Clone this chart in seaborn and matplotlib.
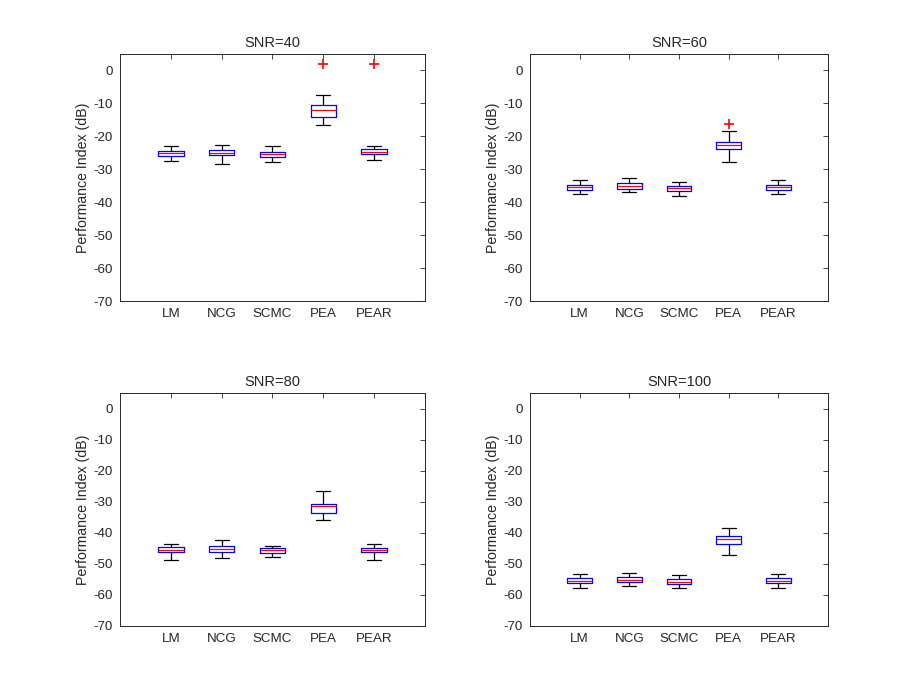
import numpy as np
import pandas as pd
import seaborn as sns
import matplotlib.pyplot as plt

methods = ["LM", "NCG", "SCMC", "PEA", "PEAR"]
snr_levels = [40, 60, 80, 100]

# five-number summary per SNR (rows) and method (columns)
whisker_low = [
    [-27.4, -28.5, -27.7, -16.5, -27.3],
    [-37.5, -36.8, -38.2, -27.8, -37.4],
    [-48.7, -48.1, -47.9, -35.8, -48.7],
    [-57.7, -57.1, -57.9, -47.2, -57.7],
]
quart_low = [
    [-26.0, -25.7, -26.2, -14.1, -25.5],
    [-36.3, -36.0, -36.5, -23.8, -36.3],
    [-46.3, -46.1, -46.6, -33.5, -46.3],
    [-56.3, -55.9, -56.4, -43.5, -56.3],
]
medians = [
    [-25.2, -25.0, -25.4, -12.1, -24.8],
    [-35.5, -35.1, -35.7, -22.7, -35.5],
    [-45.4, -45.2, -45.6, -31.5, -45.4],
    [-55.5, -55.1, -55.7, -42.1, -55.4],
]
quart_high = [
    [-24.5, -24.1, -24.8, -10.4, -23.9],
    [-34.7, -34.3, -35.1, -21.7, -34.7],
    [-44.7, -44.1, -44.9, -30.6, -44.8],
    [-54.5, -54.2, -54.9, -40.9, -54.5],
]
whisker_high = [
    [-22.8, -22.7, -23.0, -7.4, -22.8],
    [-33.3, -32.8, -33.8, -18.5, -33.3],
    [-43.5, -42.2, -44.1, -26.6, -43.5],
    [-53.3, -52.8, -53.7, -38.3, -53.2],
]

# outliers (red +)
outlier_snr = [40, 40, 60]
outlier_method = ["PEA", "PEAR", "PEA"]
outlier_value = [1.9, 1.9, -16.2]

rows = []
for i, snr in enumerate(snr_levels):
    for j, m in enumerate(methods):
        for v in (whisker_low[i][j], quart_low[i][j], medians[i][j],
                  quart_high[i][j], whisker_high[i][j]):
            rows.append({"SNR": snr, "Method": m, "PI": v})
df = pd.DataFrame(rows)
df_out = pd.DataFrame({"SNR": outlier_snr, "Method": outlier_method, "PI": outlier_value})

sns.set_style("white")
plt.rcParams["font.family"] = ["Liberation Sans", "DejaVu Sans"]
plt.rcParams["axes.unicode_minus"] = False
plt.rcParams["text.color"] = "0.15"
plt.rcParams["axes.labelcolor"] = "0.15"
plt.rcParams["xtick.color"] = "0.15"
plt.rcParams["ytick.color"] = "0.15"

fig = plt.figure(figsize=(9.15, 6.99), dpi=100)
positions = [
    [120 / 915, 1 - 301 / 699, 305 / 915, 247 / 699],
    [530 / 915, 1 - 301 / 699, 298 / 915, 247 / 699],
    [120 / 915, 1 - 626 / 699, 305 / 915, 233 / 699],
    [530 / 915, 1 - 626 / 699, 298 / 915, 233 / 699],
]

for snr, pos in zip(snr_levels, positions):
    ax = fig.add_axes(pos)
    d = df[df["SNR"] == snr]
    sns.boxplot(data=d, x="Method", y="PI", order=methods, ax=ax,
                width=0.5, whis=(0, 100), fill=False, showfliers=False,
                linewidth=0.9, linecolor="black", capwidths=0.28)
    # recolor like matlab's boxplot
    for c in ax.containers:
        for b in c.boxes:
            b.set_color("blue")
        for md in c.medians:
            md.set_color("red")
        for w in list(c.whiskers) + list(c.caps):
            w.set_color("black")
    o = df_out[df_out["SNR"] == snr]
    if len(o):
        sns.scatterplot(data=o, x="Method", y="PI", ax=ax, marker="+",
                        color="red", s=50, linewidth=1.2, zorder=5)
    ax.set_xlim(-1, 5)
    ax.set_ylim(-70, 5)
    ax.set_yticks(range(-70, 1, 10))
    ax.set_xticks(range(len(methods)))
    ax.set_xticklabels(methods)
    ax.set_xlabel("")
    ax.set_ylabel("Performance Index (dB)", fontsize=10.2, labelpad=3)
    ax.set_title(f"SNR={snr}", fontsize=10.5, pad=5)
    ax.tick_params(direction="in", length=3.5, width=0.6, labelsize=9.6,
                   top=True, right=True, pad=5)
    for s in ax.spines.values():
        s.set_color("0.15")
        s.set_linewidth(0.7)

plt.savefig("out.png", dpi=100)
